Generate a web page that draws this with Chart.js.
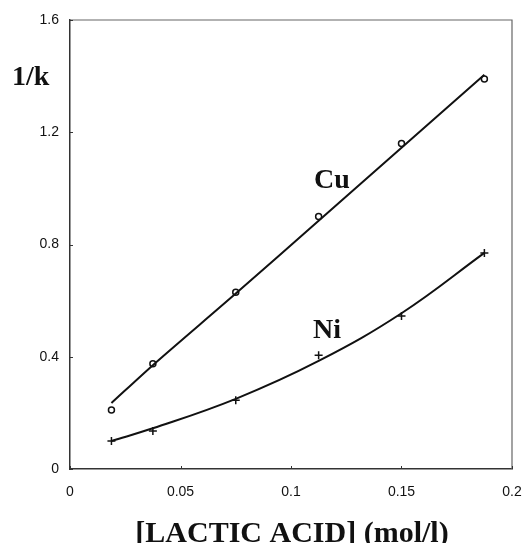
<!DOCTYPE html>
<html>
<head>
<meta charset="utf-8">
<script src="https://cdn.jsdelivr.net/npm/chart.js@4/dist/chart.umd.min.js"></script>
<style>
  html, body { margin: 0; padding: 0; background: #fff; }
  #wrap { width: 528px; height: 543px; position: relative; }
</style>
</head>
<body>
<div id="wrap"><canvas id="c" width="528" height="543"></canvas></div>
<script>
// ---- data ----
const xValues   = [0.01875, 0.0375, 0.075, 0.1125, 0.15, 0.1875];
const cuValues  = [0.21, 0.375, 0.63, 0.90, 1.16, 1.39];
const cuFit     = [0.235, 0.37, 0.625, 0.885, 1.145, 1.405];
const niValues  = [0.10, 0.135, 0.245, 0.405, 0.545, 0.77];
const niFit     = [0.10, 0.145, 0.25, 0.385, 0.555, 0.77];
const xTicks    = [0, 0.05, 0.1, 0.15, 0.2];
const xTickLabels = ['0', '0.05', '0.1', '0.15', '0.2'];
const yTicks    = [0, 0.4, 0.8, 1.2, 1.6];
const yTickLabels = ['0', '0.4', '0.8', '1.2', '1.6'];
const yTitle = '1/k';
const xTitle = '[LACTIC ACID] (mol/l)';
const seriesLabels = ['Cu', 'Ni'];

const pts = (xs, ys) => xs.map((x, i) => ({ x: x, y: ys[i] }));

const textPlugin = {
  id: 'texts',
  afterDraw(chart) {
    const ctx = chart.ctx;
    const a = chart.chartArea;
    const xs = chart.scales.x, ys = chart.scales.y;
    ctx.save();
    // frame top and right
    ctx.strokeStyle = '#666';
    ctx.lineWidth = 1.2;
    ctx.beginPath();
    ctx.moveTo(a.left, a.top); ctx.lineTo(a.right, a.top); ctx.lineTo(a.right, a.bottom);
    ctx.stroke();
    // inward tick marks
    ctx.strokeStyle = '#333';
    ctx.lineWidth = 1;
    ctx.beginPath();
    xTicks.forEach(v => { const px = Math.round(xs.getPixelForValue(v)) + 0.5; ctx.moveTo(px, a.bottom); ctx.lineTo(px, a.bottom - 3); });
    yTicks.forEach(v => { const py = Math.round(ys.getPixelForValue(v)) + 0.5; ctx.moveTo(a.left, py); ctx.lineTo(a.left + 3, py); });
    ctx.stroke();
    // titles
    ctx.fillStyle = '#111';
    ctx.font = 'bold 28px "Liberation Serif", "Times New Roman", serif';
    ctx.textAlign = 'left';
    ctx.textBaseline = 'alphabetic';
    ctx.fillText(yTitle, 12, 85);
    ctx.fillText(seriesLabels[0], 314, 188);
    ctx.fillText(seriesLabels[1], 313, 338);
    ctx.font = 'bold 30px "Liberation Serif", "Times New Roman", serif';
    ctx.textAlign = 'center';
    ctx.fillText(xTitle, 292, 542);
    ctx.restore();
  }
};

new Chart(document.getElementById('c'), {
  type: 'scatter',
  data: {
    datasets: [
      { label: 'Cu fit', data: pts(xValues, cuFit), showLine: true, borderColor: '#111', borderWidth: 2, pointRadius: 0, tension: 0.3, fill: false },
      { label: 'Ni fit', data: pts(xValues, niFit), showLine: true, borderColor: '#111', borderWidth: 2, pointRadius: 0, tension: 0.4, fill: false },
      { label: 'Cu', data: pts(xValues, cuValues), showLine: false, pointStyle: 'circle', pointRadius: 3, borderColor: '#111', borderWidth: 1.5, backgroundColor: '#fff' },
      { label: 'Ni', data: pts(xValues, niValues), showLine: false, pointStyle: 'cross', pointRadius: 4, borderColor: '#111', borderWidth: 1.5 }
    ]
  },
  options: {
    responsive: false,
    animation: false,
    devicePixelRatio: 1,
    layout: { padding: { top: 20, right: 16, left: 0, bottom: 0 } },
    plugins: { legend: { display: false }, tooltip: { enabled: false } },
    scales: {
      x: {
        type: 'linear', min: 0, max: 0.2,
        afterFit(s) { s.height = 74; s.paddingRight = 0; s.paddingLeft = 0; },
        afterBuildTicks(s) { s.ticks = xTicks.map(v => ({ value: v })); },
        grid: { display: false, drawTicks: false },
        border: { display: true, color: '#333', width: 1.5 },
        ticks: {
          padding: 15, color: '#111',
          font: { family: '"Liberation Sans", Arial, sans-serif', size: 14 },
          callback: (v) => { const i = xTicks.findIndex(t => Math.abs(t - v) < 1e-9); return i >= 0 ? xTickLabels[i] : ''; },
          maxRotation: 0, autoSkip: false
        }
      },
      y: {
        type: 'linear', min: 0, max: 1.6,
        afterFit(s) { s.width = 70; s.paddingTop = 0; s.paddingBottom = 0; },
        afterBuildTicks(s) { s.ticks = yTicks.map(v => ({ value: v })); },
        grid: { display: false, drawTicks: false },
        border: { display: true, color: '#333', width: 1.5 },
        ticks: {
          padding: 11, color: '#111',
          font: { family: '"Liberation Sans", Arial, sans-serif', size: 14 },
          callback: (v) => { const i = yTicks.findIndex(t => Math.abs(t - v) < 1e-9); return i >= 0 ? yTickLabels[i] : ''; },
          autoSkip: false
        }
      }
    }
  },
  plugins: [textPlugin]
});
</script>
</body>
</html>
